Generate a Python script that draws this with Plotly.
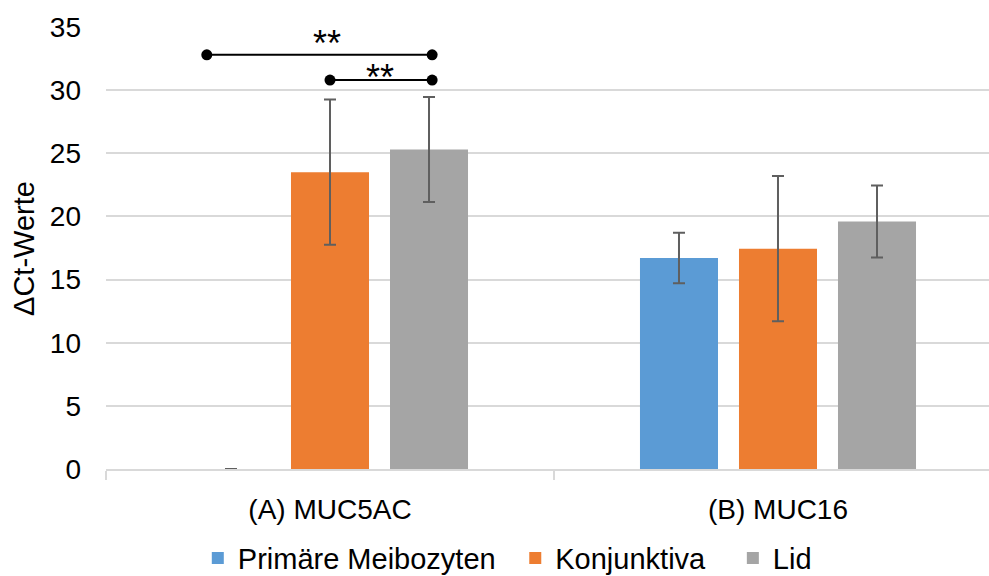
import plotly.graph_objects as go

categories = ["(A) MUC5AC", "(B) MUC16"]
series_names = ["Primäre Meibozyten", "Konjunktiva", "Lid"]
values_meibo = [0.0, 16.7]
err_meibo = [0.0, 2.0]
values_konj = [23.5, 17.45]
err_konj = [5.75, 5.75]
values_lid = [25.3, 19.6]
err_lid = [4.15, 2.85]
colors = ["#5B9BD5", "#ED7D31", "#A5A5A5"]

# significance brackets (MUC5AC group), x as offsets from category centre
bracket_x0 = [-0.275, 0.0]
bracket_x1 = [0.228, 0.228]
bracket_y = [32.8, 30.8]
bracket_label_x = [-0.007, 0.112]
bracket_label_y = [33.68, 31.02]
bracket_labels = ["**", "**"]

# legend entry left positions (fraction of figure width)
legend_x = [0.2, 0.521, 0.741]

FONT = "Liberation Sans, Arial, sans-serif"
xpos = list(range(len(categories)))
legend_ids = ["legend", "legend2", "legend3"]
fig = go.Figure()
for name, vals, errs, col, lid in zip(series_names,
                                      [values_meibo, values_konj, values_lid],
                                      [err_meibo, err_konj, err_lid], colors, legend_ids):
    fig.add_trace(go.Bar(
        x=xpos, y=vals, name=name, legend=lid,
        marker=dict(color=col, line=dict(width=0)),
        error_y=dict(type="data", array=errs, visible=True,
                     color="#5F5F5F", thickness=2, width=6),
    ))

for x0, x1, y in zip(bracket_x0, bracket_x1, bracket_y):
    fig.add_shape(type="line", xref="x", yref="y", x0=x0, x1=x1, y0=y, y1=y,
                  line=dict(color="black", width=2))
    fig.add_trace(go.Scatter(x=[x0, x1], y=[y, y], mode="markers",
                             marker=dict(color="black", size=11),
                             showlegend=False, hoverinfo="skip"))
for lx, ly, t in zip(bracket_label_x, bracket_label_y, bracket_labels):
    fig.add_annotation(x=lx, y=ly, xref="x", yref="y", text=t, showarrow=False,
                       yanchor="middle", font=dict(size=36, color="black", family=FONT))

fig.add_annotation(x=-0.0929, y=0.5, xref="paper", yref="paper", text="ΔCt-Werte",
                   textangle=-90, showarrow=False, xanchor="center", yanchor="middle",
                   font=dict(size=29, color="black", family=FONT))

legend_common = dict(orientation="h", xref="container", yref="container",
                     xanchor="left", y=0.031, yanchor="middle",
                     font=dict(size=29), itemwidth=30, bgcolor="rgba(0,0,0,0)")
fig.update_layout(
    width=989, height=576,
    margin=dict(l=106, r=0, t=27, b=107),
    paper_bgcolor="white", plot_bgcolor="white",
    barmode="group", bargap=0.337, bargroupgap=0.212,
    font=dict(family=FONT, size=28, color="black"),
    legend=dict(x=legend_x[0], **legend_common),
    legend2=dict(x=legend_x[1], **legend_common),
    legend3=dict(x=legend_x[2], **legend_common),
)
fig.update_xaxes(
    range=[-0.5, 1.471], tickvals=xpos, ticktext=categories,
    showline=True, linecolor="#D9D9D9", linewidth=2,
    ticks="", showgrid=False, zeroline=False,
    minor=dict(tickvals=[-0.5, 0.5, 1.5], ticks="outside", ticklen=9,
               tickcolor="#D9D9D9", tickwidth=2, showgrid=False),
    tickfont=dict(size=28), ticklabelstandoff=14,
)
fig.update_yaxes(
    range=[0, 35], dtick=5, showgrid=True, gridcolor="#D9D9D9", gridwidth=2,
    zeroline=False, showline=False, tickfont=dict(size=28), ticklabelstandoff=24,
)
fig.write_html("out.html")
